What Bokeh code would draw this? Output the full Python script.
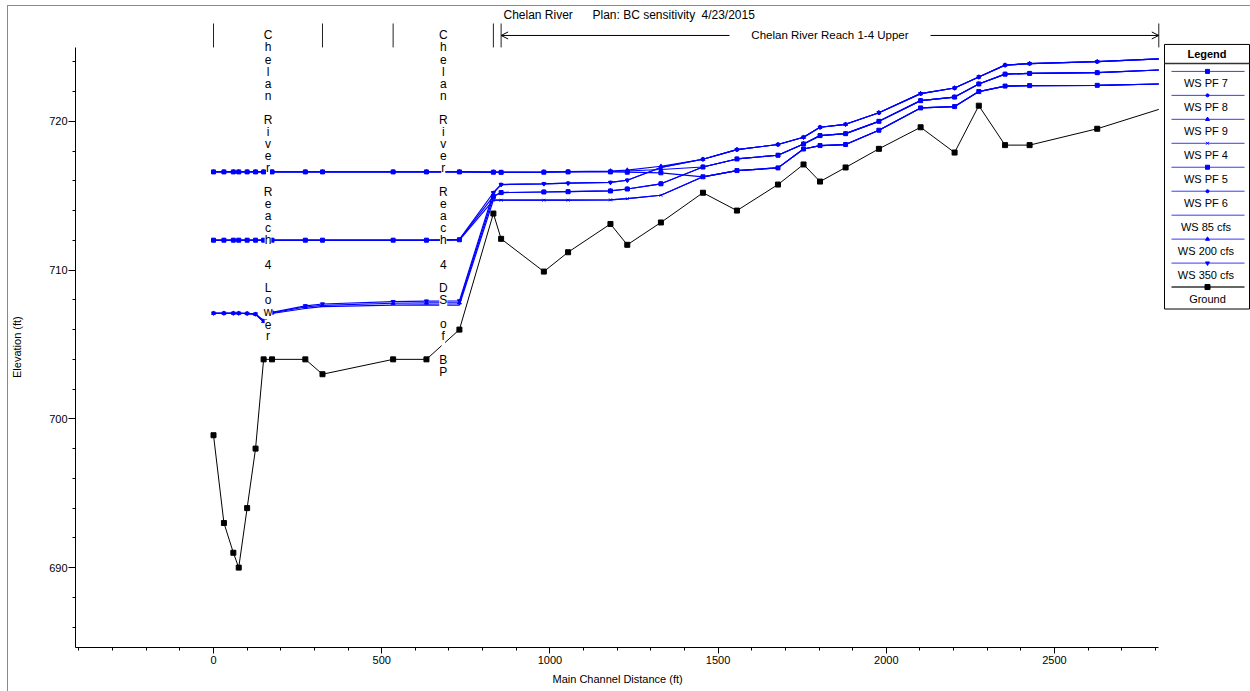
import math
from bokeh.plotting import figure
from bokeh.models import (Range1d, FixedTicker, ColumnDataSource, LabelSet, Label,
                          Arrow, OpenHead, Title)
from bokeh.core.properties import value
from bokeh.embed import file_html
from bokeh.resources import INLINE

# ---------------- data ----------------
stations = [0, 31, 59, 75, 100, 125, 149, 174, 273, 324, 534, 633, 731,
            832, 855, 982, 1054, 1180, 1230, 1330, 1455, 1556, 1678, 1754,
            1803, 1879, 1978, 2102, 2203, 2275, 2353, 2426, 2627, 2810]

ground = [698.9, 693.0, 691.0, 690.0, 694.0, 698.0, 704.0, 704.0, 704.0, 703.0, 704.0, 704.0, 706.0,
          713.8, 712.1, 709.9, 711.2, 713.1, 711.7, 713.2, 715.2, 714.0, 715.75, 717.1,
          715.95, 716.9, 718.15, 719.6, 717.9, 721.05, 718.4, 718.4, 719.5, 720.8]

ws_pf7 = [716.6, 716.6, 716.6, 716.6, 716.6, 716.6, 716.6, 716.6, 716.6, 716.6, 716.6, 716.6, 716.6,
          716.58, 716.57, 716.58, 716.60, 716.60, 716.58, 716.54,
          716.27, 716.69, 716.87, 718.14, 718.37, 718.44, 719.40, 720.90, 720.99, 722.00,
          722.37, 722.40, 722.42, 722.51]
ws_pf8 = [716.6, 716.6, 716.6, 716.6, 716.6, 716.6, 716.6, 716.6, 716.6, 716.6, 716.6, 716.6, 716.6,
          716.58, 716.57, 716.59, 716.61, 716.64, 716.66, 716.76,
          716.93, 717.47, 717.72, 718.48, 719.04, 719.17, 720.00, 721.39, 721.63, 722.51,
          723.17, 723.22, 723.27, 723.45]
ws_pf9 = [716.6, 716.6, 716.6, 716.6, 716.6, 716.6, 716.6, 716.6, 716.6, 716.6, 716.6, 716.6, 716.6,
          716.59, 716.58, 716.60, 716.62, 716.66, 716.72, 716.98,
          717.45, 718.10, 718.44, 718.93, 719.60, 719.80, 720.58, 721.86, 722.24, 722.98,
          723.78, 723.88, 724.01, 724.20]
ws_pf4 = [712.00, 712.00, 712.00, 712.00, 712.00, 712.00, 712.00, 712.00, 712.00, 712.00, 712.00, 712.00, 712.02,
          714.70, 714.70, 714.70, 714.70, 714.72, 714.80, 715.03,
          716.27, 716.69, 716.87, 718.14, 718.37, 718.44, 719.40, 720.90, 720.99, 722.00,
          722.37, 722.40, 722.42, 722.51]
ws_pf5 = [712.01, 712.01, 712.01, 712.01, 712.01, 712.01, 712.01, 712.01, 712.01, 712.01, 712.01, 712.01, 712.04,
          714.95, 715.21, 715.25, 715.27, 715.32, 715.45, 715.80,
          716.93, 717.47, 717.72, 718.48, 719.04, 719.17, 720.00, 721.39, 721.63, 722.51,
          723.17, 723.22, 723.27, 723.45]
ws_pf6 = [712.02, 712.02, 712.02, 712.02, 712.02, 712.02, 712.02, 712.02, 712.02, 712.02, 712.02, 712.02, 712.06,
          715.20, 715.75, 715.80, 715.84, 715.89, 716.04, 716.90,
          717.45, 718.10, 718.44, 718.93, 719.60, 719.80, 720.58, 721.86, 722.24, 722.98,
          723.78, 723.88, 724.01, 724.20]
ws_85 = [707.10, 707.10, 707.10, 707.10, 707.08, 707.02, 706.50, 707.08, 707.42, 707.55, 707.65, 707.66, 707.65,
         714.70, 714.70, 714.70, 714.70, 714.72, 714.80, 715.03,
         716.27, 716.69, 716.87, 718.14, 718.37, 718.44, 719.40, 720.90, 720.99, 722.00,
         722.37, 722.40, 722.42, 722.51]
ws_200 = [707.10, 707.10, 707.10, 707.10, 707.08, 707.03, 706.55, 707.12, 707.52, 707.63, 707.77, 707.79, 707.80,
          714.95, 715.21, 715.25, 715.27, 715.32, 715.45, 715.80,
          716.93, 717.47, 717.72, 718.48, 719.04, 719.17, 720.00, 721.39, 721.63, 722.51,
          723.17, 723.22, 723.27, 723.45]
ws_350 = [707.11, 707.11, 707.11, 707.11, 707.09, 707.05, 706.62, 707.16, 707.60, 707.72, 707.88, 707.92, 707.93,
          715.20, 715.75, 715.80, 715.84, 715.89, 716.04, 716.90,
          717.45, 718.10, 718.44, 718.93, 719.60, 719.80, 720.58, 721.86, 722.24, 722.98,
          723.78, 723.88, 724.01, 724.20]

series_names = ["WS  PF 7", "WS  PF 8", "WS  PF 9", "WS  PF 4", "WS  PF 5", "WS  PF 6",
                "WS  85 cfs", "WS  200 cfs", "WS  350 cfs"]
series_values = [ws_pf7, ws_pf8, ws_pf9, ws_pf4, ws_pf5, ws_pf6, ws_85, ws_200, ws_350]
series_markers = ["square", "circle", "triangle", "x", "square", "circle", None, "triangle", "inverted_triangle"]
series_msize = [4, 3, 4, 4, 4, 3, 0, 4, 4]

reach_bounds = [0, 324, 534, 832, 855, 2810]
reach_labels = ["Chelan River Reach 4 Lower", "Chelan River Reach 4 DS of BP"]
upper_reach_label = "Chelan River Reach 1-4 Upper"
title_parts = ["Chelan River", "Plan: BC sensitivity", "4/23/2015"]
x_title = "Main Channel Distance (ft)"
y_title = "Elevation (ft)"

x_major = [0, 500, 1000, 1500, 2000, 2500]
y_major = [690, 700, 710, 720]

# ---------------- layout helpers (page pixels -> data) ----------------
X_PX0, X_SCALE = 213.0, 0.3364     # page x of distance 0, px per ft
Y_PX720, Y_SCALE = 121.0, 14.9     # page y of elevation 720, px per ft
def dx(px):
    return (px - X_PX0) / X_SCALE
def dy(py):
    return 720.0 + (Y_PX720 - py) / Y_SCALE

FONT = "Liberation Sans"
BLUE = "#0000ff"

p = figure(width=1242, height=685, output_backend="svg", toolbar_location=None,
           x_range=Range1d(dx(75), dx(1250)), y_range=Range1d(dy(648), dy(6)),
           min_border_left=67, min_border_right=0, min_border_top=0, min_border_bottom=43)
p.styles = {"margin-left": "8px", "margin-top": "6px", "outline": "1px solid #8a8a8a"}
p.grid.visible = False
p.outline_line_color = None
p.background_fill_color = "white"
p.border_fill_color = "white"

y_axis_top = dy(47)
p.xaxis.bounds = (dx(75), reach_bounds[-1])
p.yaxis.bounds = (dy(648), y_axis_top)
p.xaxis.ticker = FixedTicker(ticks=x_major, minor_ticks=list(range(-400, 2801, 100)))
p.yaxis.ticker = FixedTicker(ticks=y_major, minor_ticks=list(range(686, 725, 2)))
for ax in (p.xaxis[0], p.yaxis[0]):
    ax.axis_line_color = "black"
    ax.major_tick_line_color = "black"
    ax.minor_tick_line_color = "black"
    ax.major_tick_in = 0
    ax.minor_tick_in = 0
    ax.minor_tick_out = 3
    ax.major_label_text_font = FONT
    ax.major_label_text_font_size = "11px"
    ax.major_label_text_color = "black"
p.xaxis.major_tick_out = 6
p.yaxis.major_tick_out = 7
p.xaxis.major_label_standoff = 2
p.yaxis.major_label_standoff = 1
# blank spacer label on the y axis pushes the axis title outwards
p.yaxis.axis_label = " "
p.yaxis.axis_label_standoff = 8
p.yaxis.axis_label_text_font_size = "11px"

# axis titles as side-panel titles, positioned along the drawn axis extent
p.add_layout(Title(text=x_title, align="left", offset=477, standoff=11, vertical_align="middle",
                   text_font=FONT, text_font_size="11px", text_font_style="normal",
                   text_color="black"), "below")
p.add_layout(Title(text=y_title, align="left", offset=269.5, standoff=0, vertical_align="middle",
                   text_font=FONT, text_font_size="11px", text_font_style="normal",
                   text_color="black"), "left")

# ---------------- data lines ----------------
for ys, mk, ms in zip(series_values, series_markers, series_msize):
    p.line(stations, ys, line_color=BLUE, line_width=1.2)
    if mk:
        p.scatter(stations[:-1], ys[:-1], marker=mk, size=ms, fill_color=BLUE, line_color=BLUE)
p.line(stations, ground, line_color="black", line_width=1)
p.scatter(stations[:-1], ground[:-1], marker="square", size=5, fill_color="black", line_color="black")

# ---------------- reach annotations ----------------
p.segment(x0=reach_bounds, y0=[dy(23)] * len(reach_bounds), x1=reach_bounds, y1=[dy(47)] * len(reach_bounds),
          line_color="#222222", line_width=1)

chars_x, chars_y, chars_t = [], [], []
for (a, b), lab in zip([(reach_bounds[0], reach_bounds[1]), (reach_bounds[2], reach_bounds[3])], reach_labels):
    for i, ch in enumerate(lab):
        chars_x.append((a + b) / 2)
        chars_y.append(dy(35 + 12.05 * i))
        chars_t.append(ch)
csrc = ColumnDataSource(dict(x=chars_x, y=chars_y, t=chars_t))
p.add_layout(LabelSet(x="x", y="y", text="t", source=csrc, text_align="center", text_baseline="middle",
                      text_font=value(FONT), text_font_size="12px", text_color="black",
                      background_fill_color="white"))

arrow_y = dy(35)
p.add_layout(Arrow(end=OpenHead(size=7, line_width=1, line_color="black"), x_start=dx(729), y_start=arrow_y,
                   x_end=reach_bounds[4], y_end=arrow_y, line_width=1, line_color="black"))
p.add_layout(Arrow(end=OpenHead(size=7, line_width=1, line_color="black"), x_start=dx(930), y_start=arrow_y,
                   x_end=reach_bounds[5], y_end=arrow_y, line_width=1, line_color="black"))
p.add_layout(Label(x=(reach_bounds[4] + reach_bounds[5]) / 2, y=arrow_y, text=upper_reach_label,
                   text_font=FONT, text_font_size="11.5px", text_color="black",
                   text_align="center", text_baseline="middle"))

for px, txt in zip([503, 592, 701], title_parts):
    p.add_layout(Label(x=dx(px), y=dy(15), text=txt, text_font=FONT, text_font_size="12px",
                       text_color="black", text_align="left", text_baseline="middle"))

# ---------------- legend (drawn) ----------------
L, R, T, B = 1164, 1249, 44, 309
p.quad(left=[dx(L)], right=[dx(R)], top=[dy(T)], bottom=[dy(B)], fill_color="white", line_color="black",
       line_width=1)
p.text(x=[dx((L + R) / 2)], y=[dy(54)], text=["Legend"], text_font=value(FONT), text_font_style="bold",
       text_font_size="11px", text_color="black", text_align="center", text_baseline="middle")
p.segment(x0=[dx(L)], y0=[dy(63)], x1=[dx(R)], y1=[dy(63)], line_color="#333333", line_width=1.5)

leg_names = series_names + ["Ground"]
leg_colors = [BLUE] * len(series_names) + ["black"]
leg_markers = series_markers + ["square"]
leg_msize = series_msize + [5]
for i, (nm, col, mk, ms) in enumerate(zip(leg_names, leg_colors, leg_markers, leg_msize)):
    ly = dy(71 + 24 * i)
    ty = dy(82.5 + 24 * i)
    lc = "#3a3aff" if col == BLUE else "#666666"
    lw = 1 if col == BLUE else 2
    p.segment(x0=[dx(1171)], y0=[ly], x1=[dx(1244)], y1=[ly], line_color=lc, line_width=lw)
    if mk:
        p.scatter([dx(1207)], [ly], marker=mk, size=ms, fill_color=col, line_color=col)
    p.text(x=[dx(1207)], y=[ty], text=[nm], text_font=value(FONT), text_font_size="11px",
           text_color="black", text_align="center", text_baseline="middle")

open("out.html", "w").write(file_html(p, INLINE))
